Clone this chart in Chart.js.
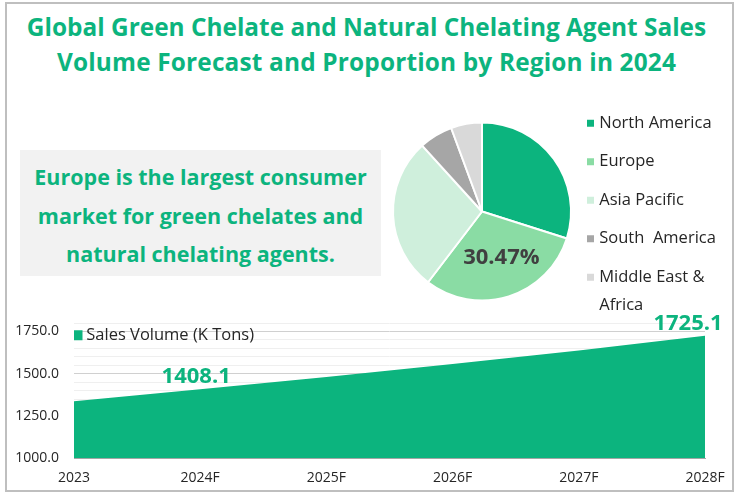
<!DOCTYPE html>
<html>
<head>
<meta charset="utf-8">
<script src="https://cdn.jsdelivr.net/npm/chart.js@4"></script>
<style>
  html, body { margin: 0; padding: 0; background: #fff; }
  #page { position: relative; width: 739px; height: 495px; overflow: hidden; font-family: "Open Sans", sans-serif; }
  #frame { position: absolute; left: 5px; top: 2px; width: 725px; height: 486px; border: 2px solid #bfbfbf; }
  #title { position: absolute; left: 0; top: 9px; width: 733px; text-align: center; color: #0cb47e; font-size: 24.4px; font-weight: 700; line-height: 35px; }
  #title span { letter-spacing: 0.17px; }
  #note { position: absolute; left: 20px; top: 150px; width: 361px; height: 126px; background: #f2f2f2; color: #0cb47e; font-size: 21.5px; font-weight: 700; line-height: 38.5px; text-align: center; padding-top: 8px; box-sizing: border-box; }
  #pieChart { position: absolute; left: 380px; top: 93px; z-index: 2; }
  #areaChart { position: absolute; left: 0; top: 310px; z-index: 1; }
</style>
</head>
<body>
<div id="page">
  <div id="frame"></div>
  <div id="title">Global Green Chelate and Natural Chelating Agent Sales<br><span>Volume Forecast and Proportion by Region in 2024</span></div>
  <div id="note">Europe is the largest consumer<br>market for green chelates and<br>natural chelating agents.</div>
  <canvas id="pieChart" width="360" height="237"></canvas>
  <canvas id="areaChart" width="739" height="187"></canvas>
</div>
<script>
// Bölge verileri
const regions = ['North America', 'Europe', 'Asia Pacific', 'South  America', ['Middle East &', 'Africa']];
const regionShares = [29.9, 30.47, 27.9, 6.1, 5.63];
const regionColors = ['#0cb47e', '#8adca4', '#cfefdc', '#a6a6a6', '#d9d9d9'];

// Satış verileri
const years = ['2023', '2024F', '2025F', '2026F', '2027F', '2028F'];
const salesVolume = [1337, 1408.1, 1480, 1557, 1638, 1725.1];
const labeledPoints = [1, 5];

// Pasta dilimi etiketi
const pieLabelPlugin = {
    id: 'pieLabel',
    afterDatasetsDraw(chart) {
        const arc = chart.getDatasetMeta(0).data[1];
        const pos = arc.tooltipPosition();
        const ctx = chart.ctx;
        ctx.save();
        ctx.font = '700 22px "Open Sans"';
        ctx.fillStyle = '#404040';
        ctx.textAlign = 'center';
        ctx.textBaseline = 'middle';
        ctx.fillText(regionShares[1].toFixed(2) + '%', pos.x + 6, pos.y + 4);
        ctx.restore();
    }
};

// Alan grafiği nokta etiketleri
const areaLabelPlugin = {
    id: 'areaLabel',
    afterDatasetsDraw(chart) {
        const points = chart.getDatasetMeta(0).data;
        const ctx = chart.ctx;
        ctx.save();
        ctx.font = '700 22px "Open Sans"';
        ctx.fillStyle = '#0cb47e';
        ctx.textAlign = 'center';
        ctx.textBaseline = 'bottom';
        labeledPoints.forEach(i => {
            const shift = i === salesVolume.length - 1 ? -17 : -4;
            ctx.fillText(salesVolume[i].toFixed(1), points[i].x + shift, points[i].y - 1);
        });
        ctx.restore();
    }
};

new Chart(document.getElementById('pieChart'), {
    type: 'pie',
    data: {
        labels: regions,
        datasets: [{
            data: regionShares,
            backgroundColor: regionColors,
            borderColor: '#ffffff',
            borderWidth: 2,
            radius: 89
        }]
    },
    options: {
        responsive: false,
        animation: false,
        layout: { padding: { left: 16 } },
        plugins: {
            tooltip: { enabled: false },
            legend: {
                position: 'right',
                align: 'start',
                labels: {
                    usePointStyle: true,
                    pointStyle: 'rect',
                    boxWidth: 1,
                    boxHeight: 9,
                    padding: 22,
                    color: '#262626',
                    font: { family: '"Open Sans"', size: 16.5, lineHeight: 1.7 }
                }
            }
        }
    },
    plugins: [pieLabelPlugin]
});

new Chart(document.getElementById('areaChart'), {
    type: 'line',
    data: {
        labels: years,
        datasets: [{
            label: 'Sales Volume (K Tons)',
            data: salesVolume,
            fill: 'origin',
            tension: 0,
            pointRadius: 0,
            borderWidth: 0,
            borderColor: '#0cb47e',
            backgroundColor: '#0cb47e'
        }]
    },
    options: {
        responsive: false,
        animation: false,
        layout: { padding: { left: 0, right: 34, top: 13, bottom: 0 } },
        scales: {
            x: {
                offset: false,
                grid: { display: false, drawTicks: false },
                border: { color: '#a6a6a6' },
                ticks: { color: '#262626', font: { family: '"Open Sans"', size: 14 }, maxRotation: 0, padding: 11 }
            },
            y: {
                min: 1000,
                max: 1800,
                afterFit(scale) { scale.width = 74; },
                grid: {
                    tickLength: 15,
                    tickColor: 'transparent',
                    color: ctx => (ctx.tick.value - 1000) % 250 === 0 ? '#d0d0d0' : '#efefef'
                },
                border: { display: false },
                ticks: {
                    stepSize: 50,
                    autoSkip: false,
                    padding: 0,
                    color: '#262626',
                    font: { family: '"Open Sans"', size: 14 },
                    callback: v => (v - 1000) % 250 === 0 ? v.toFixed(1) : ''
                }
            }
        },
        plugins: {
            tooltip: { enabled: false },
            legend: {
                position: 'chartArea',
                align: 'start',
                title: { display: true, text: '', padding: { top: 0, bottom: 13 }, font: { size: 1, lineHeight: 1 } },
                labels: {
                    usePointStyle: true,
                    pointStyle: 'rect',
                    boxWidth: 1,
                    boxHeight: 10,
                    padding: 3,
                    color: '#262626',
                    font: { family: '"Open Sans"', size: 16.5 }
                }
            }
        }
    },
    plugins: [areaLabelPlugin]
});
</script>
</body>
</html>
